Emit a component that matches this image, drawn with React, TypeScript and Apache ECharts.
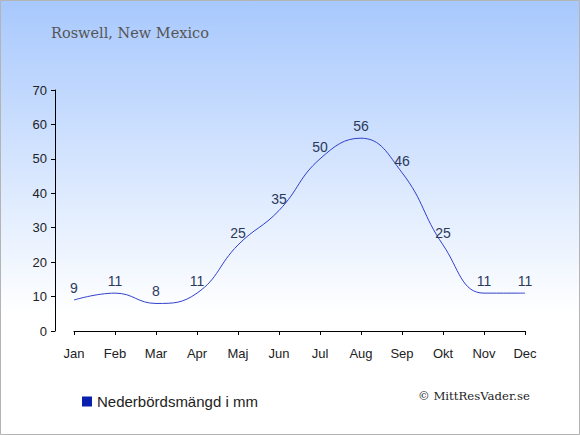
import React, { useEffect, useRef } from "react";
import * as echarts from "echarts";

const months = ["Jan", "Feb", "Mar", "Apr", "Maj", "Jun", "Jul", "Aug", "Sep", "Okt", "Nov", "Dec"];
const precipitation = [9, 11, 8, 11, 25, 35, 50, 56, 46, 25, 11, 11];
const seriesName = "Nederbördsmängd i mm";
const titleText = "Roswell, New Mexico";
const creditText = "© MittResVader.se";

export default function App() {
  const ref = useRef<HTMLDivElement>(null);
  useEffect(() => {
    if (!ref.current) return;
    const chart = echarts.init(ref.current, undefined, { renderer: "svg" });
    chart.setOption({
      animation: false,
      backgroundColor: new echarts.graphic.LinearGradient(0, 0, 0, 1, [
        { offset: 0, color: "#a7c8fd" },
        { offset: 0.72, color: "#ffffff" },
        { offset: 1, color: "#ffffff" },
      ]),
      title: {
        text: titleText,
        left: 46,
        top: 20,
        textStyle: { fontFamily: "DejaVu Serif", fontSize: 14.5, fontWeight: "normal", color: "#555555" },
      },
      legend: {
        data: [{ name: seriesName, itemStyle: { color: "#0a1fad" } }],
        left: 77,
        top: 389,
        icon: "rect",
        itemWidth: 10,
        itemHeight: 10,
        itemGap: 6,
        textStyle: { fontFamily: "Liberation Sans", fontSize: 15, color: "#222222" },
      },
      grid: { left: 74, right: 55, top: 90, bottom: 104, containLabel: false },
      xAxis: {
        type: "category",
        data: months,
        boundaryGap: false,
        offset: 10,
        axisLine: { lineStyle: { color: "#000000", width: 1 } },
        axisTick: { alignWithLabel: true, length: 4, lineStyle: { color: "#000000" } },
        axisLabel: { color: "#222222", fontFamily: "Liberation Sans", fontSize: 13, margin: 6 },
        splitLine: { show: false },
      },
      yAxis: {
        type: "value",
        min: 0,
        max: 70,
        interval: 10,
        offset: 19,
        axisLine: { show: true, lineStyle: { color: "#000000", width: 1 } },
        axisTick: { show: true, length: 4, lineStyle: { color: "#000000" } },
        axisLabel: { color: "#222222", fontFamily: "Liberation Sans", fontSize: 13, margin: 8 },
        splitLine: { show: false },
      },
      series: [
        {
          name: seriesName,
          type: "line",
          data: precipitation,
          smooth: 0.45,
          symbol: "circle",
          symbolSize: 0,
          itemStyle: { color: "#3040cc" },
          lineStyle: { color: "#3040cc", width: 1 },
          label: {
            show: true,
            position: "top",
            distance: 5,
            color: "#2b3a5c",
            fontFamily: "Liberation Sans",
            fontSize: 14,
          },
        },
      ],
      graphic: [
        {
          type: "text",
          left: 418,
          top: 390,
          style: { text: creditText, fontFamily: "DejaVu Serif", fontSize: 11.7, fill: "#222222" },
        },
        {
          type: "rect",
          shape: { x: 0.5, y: 0.5, width: 579, height: 434 },
          style: { fill: "none", stroke: "#b4b4b4", lineWidth: 1 },
          silent: true,
        },
      ],
    });
    return () => chart.dispose();
  }, []);
  return <div ref={ref} style={{ position: "fixed", left: 0, top: 0, width: 580, height: 435 }} />;
}
